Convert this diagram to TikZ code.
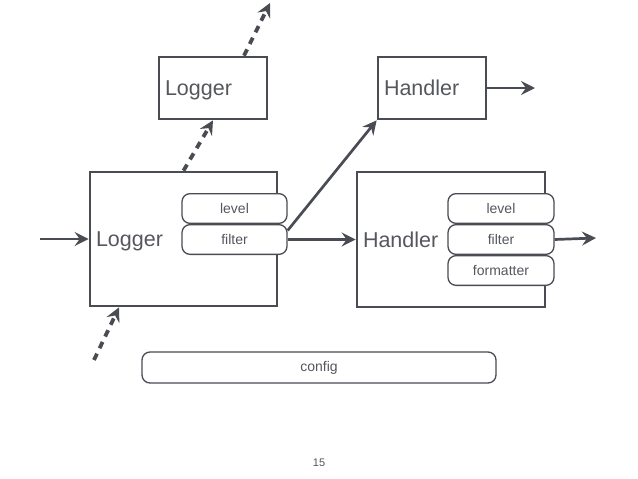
\documentclass[tikz,border=0pt]{standalone}
\usepackage{fontspec}
\setmainfont{Liberation Sans}
\usetikzlibrary{positioning, calc, arrows.meta}
\definecolor{ink}{HTML}{4A4C53}
\definecolor{txt}{HTML}{55575D}
\tikzset{
  box/.style={draw=ink, line width=2.7pt, text=txt, font=\fontsize{21.5}{24}\selectfont, align=left, inner xsep=6pt, text depth=0pt},
  pill/.style={draw=ink, fill=white, line width=1.3pt, rounded corners=8pt, text=txt, font=\fontsize{14}{16}\selectfont, minimum height=29.7pt, inner sep=0pt},
  flow/.style={->, draw=ink, line width=2.7pt},
  pass/.style={flow, line width=3.8pt, dash pattern=on 7pt off 6pt},
}

\begin{document}
\begin{tikzpicture}[x=1pt, y=-1pt, >={Stealth[length=14pt,width=14pt,inset=5pt]}]
\useasboundingbox (0,0) rectangle (638,479);
% loggers
\node[box, text width=175pt, minimum height=134pt] (logger) at (183.5,239) {Logger};
\node[box, text width=96pt, minimum height=62pt] (lparent) at (213,88) {Logger};
\node[pill, minimum width=105pt] (llevel) at (234.5,208.5) {level};
\node[pill, minimum width=105pt, below=0pt of llevel] (lfilter) {filter};
% handlers
\node[box, text width=176pt, minimum height=135pt] (handler) at (451,239.5) {Handler};
\node[box, text width=96pt, minimum height=62pt] (hsmall) at (432,88) {Handler};
\node[pill, minimum width=106pt] (hlevel) at (501,208.5) {level};
\node[pill, minimum width=106pt, below=0pt of hlevel] (hfilter) {filter};
\node[pill, minimum width=106pt, below=0pt of hfilter] (hformat) {formatter};
\node[pill, minimum width=354pt, minimum height=31pt] (config) at (319,367.5) {config};
\node[font=\fontsize{11}{13}\selectfont, text=txt] (page) at (319,463) {15};

\coordinate (src) at (40,239);
\coordinate (lchild) at (94,360);
\coordinate (above) at (270,3);
\coordinate (out1) at (535,88);
\coordinate (out2) at (596,238);

\draw[flow] (src) -- (logger.west);
\draw[pass] (lchild) -- ($(logger.south west)!0.16!(logger.south east)$);
\draw[pass] (logger.north) -- (lparent.south);
\draw[pass] ($(lparent.north west)!0.78!(lparent.north east)$) -- (above);
\draw[flow] (lfilter.east) -- (lfilter.east -| handler.west);
\draw[flow] ($(lfilter.east)+(0,-9)$) -- (hsmall.south west);
\draw[flow] (hsmall.east) -- (out1);
\draw[flow] (hfilter.east) -- (out2);

\end{tikzpicture}
\end{document}
